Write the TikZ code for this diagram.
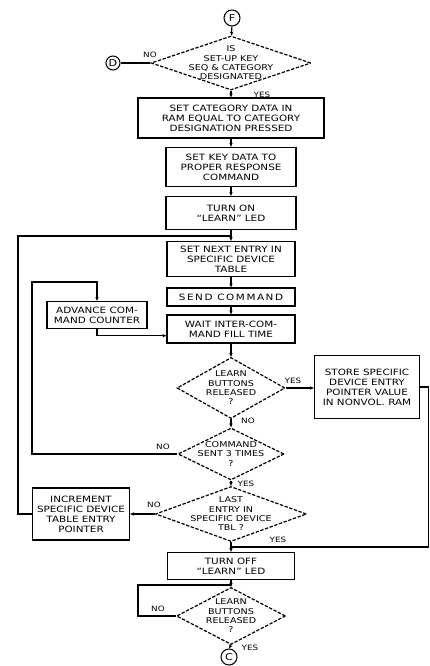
\documentclass[tikz,border=0pt]{standalone}
\usepackage{fontspec}
\usepackage{tikz}
\usetikzlibrary{shapes.geometric,arrows.meta}

\newfontfamily\scanfont{DejaVu Sans}[FakeStretch=1.2]

\tikzset{
  box/.style={draw, line width=0.9pt, rectangle, align=center, inner sep=1pt,
    font=\scanfont\fontsize{6.5}{7.5}\selectfont},
  decision/.style={draw, line width=0.9pt, dash pattern=on 2.5pt off 1.2pt,
    diamond, inner sep=0pt},
  dtext/.style={align=center, inner sep=0pt, font=\scanfont\fontsize{6}{7}\selectfont},
  conn/.style={draw, line width=0.8pt, circle, inner sep=0pt, minimum size=12pt,
    font=\scanfont\fontsize{7}{8}\selectfont},
  lbl/.style={inner sep=0pt, font=\scanfont\fontsize{5.5}{6}\selectfont},
  link/.style={line width=0.8pt},
  flow/.style={line width=0.8pt, -{Stealth[length=3pt,width=2.5pt]}}
}

\begin{document}
\begin{tikzpicture}[x=0.75pt,y=-0.75pt]
  \useasboundingbox (0,0) rectangle (429,666);

  \node[conn] (cF) at (232,18) {F};
  \node[decision, minimum width=120pt, minimum height=40.5pt,
    label={[dtext]center:{IS\\SET-UP KEY\\SEQ \& CATEGORY\\DESIGNATED}}] (dCat) at (231,63) {};
  \node[conn, minimum size=10.5pt] (cD) at (113,63) {D};
  \node[box, minimum width=139.5pt, minimum height=30pt] (bCat) at (231,118)
    {SET CATEGORY DATA IN\\RAM EQUAL TO CATEGORY\\DESIGNATION PRESSED};
  \node[box, minimum width=97.5pt, minimum height=29.25pt] (bKey) at (231,167)
    {SET KEY DATA TO\\PROPER RESPONSE\\COMMAND};
  \node[box, minimum width=97.5pt, minimum height=24.75pt] (bLedOn) at (231,213)
    {TURN ON\\“LEARN” LED};
  \coordinate (jNext) at (231,236);
  \node[box, minimum width=96pt, minimum height=26.25pt] (bNext) at (231,259)
    {SET NEXT ENTRY IN\\SPECIFIC DEVICE\\TABLE};
  \node[box, minimum width=96pt, minimum height=13.5pt] (bSend) at (231,297)
    {\addfontfeature{LetterSpace=18}SEND COMMAND};
  \node[box, minimum width=96pt, minimum height=21pt] (bWait) at (231,329)
    {WAIT INTER-COM-\\MAND FILL TIME};
  \node[decision, minimum width=81pt, minimum height=45.75pt,
    label={[dtext]center:{LEARN\\BUTTONS\\RELEASED\\?}}] (dRel1) at (231,388) {};
  \node[box, minimum width=78.75pt, minimum height=47.25pt] (bStore) at (367,387)
    {STORE SPECIFIC\\DEVICE ENTRY\\POINTER VALUE\\IN NONVOL. RAM};
  \node[box, minimum width=75pt, minimum height=20.25pt] (bAdv) at (97,315)
    {ADVANCE COM-\\MAND COUNTER};
  \node[decision, minimum width=79.5pt, minimum height=39pt,
    label={[dtext]center:{COMMAND\\SENT 3 TIMES\\?}}] (dSent) at (231,454) {};
  \node[decision, minimum width=113.25pt, minimum height=41.25pt,
    label={[dtext]center:{LAST\\ENTRY IN\\SPECIFIC DEVICE\\TBL ?}}] (dLast) at (231,514) {};
  \node[box, minimum width=72.75pt, minimum height=39pt] (bInc) at (81,514)
    {INCREMENT\\SPECIFIC DEVICE\\TABLE ENTRY\\POINTER};
  \coordinate (jOff) at (231,547);
  \node[box, minimum width=95.25pt, minimum height=20.25pt] (bLedOff) at (231,566)
    {TURN OFF\\“LEARN” LED};
  \coordinate (jRel) at (231,585);
  \node[decision, minimum width=81.75pt, minimum height=42.75pt,
    label={[dtext]center:{LEARN\\BUTTONS\\RELEASED\\?}}] (dRel2) at (231,616) {};
  \node[conn] (cC) at (229,657) {C};

  \node[lbl] (lNoCat) at (150,55) {NO};
  \node[lbl] (lYesCat) at (262,95) {YES};
  \node[lbl] (lYesRel1) at (293,381) {YES};
  \node[lbl] (lNoRel1) at (248,421) {NO};
  \node[lbl] (lNoSent) at (163,447) {NO};
  \node[lbl] (lYesSent) at (246,484) {YES};
  \node[lbl] (lNoLast) at (154,505) {NO};
  \node[lbl] (lYesLast) at (278,540) {YES};
  \node[lbl] (lNoRel2) at (158,609) {NO};
  \node[lbl] (lYesRel2) at (250,648) {YES};

  \draw[flow] (cF) -- (dCat);
  \draw[link] (dCat.west) -- (cD.east);
  \draw[flow] (dCat.south) -- (bCat.north);
  \draw[flow] (bCat) -- (bKey);
  \draw[flow] (bKey) -- (bLedOn);
  \draw[link] (bLedOn.south) -- (jNext);
  \draw[flow] (jNext) -- (bNext.north);
  \draw[flow] (bNext) -- (bSend);
  \draw[flow] (bSend) -- (bWait);
  \draw[flow] (bWait.south) -- (dRel1.north);
  \draw[flow] (dRel1.east) -- (dRel1.east -| bStore.west);
  \draw[flow] (dRel1.south) -- (dSent.north);
  \draw[flow] (dSent.west) -| (32,282) -| (bAdv.north);
  \draw[flow] (bAdv.south) |- ([yshift=-5pt]bWait.west);
  \draw[flow] (dSent.south) -- (dLast.north);
  \draw[flow] (dLast.west) -- (bInc.east);
  \draw[link] (bInc.west) -| (18,236) -- (jNext);
  \draw[link] (dLast.south) -- (jOff);
  \draw[link] (bStore.east) -- ++(8,0) |- (jOff);
  \draw[flow] (jOff) -- (bLedOff.north);
  \draw[link] (bLedOff.south) -- (jRel);
  \draw[flow] (jRel) -- (dRel2.north);
  \draw[link] (dRel2.west) -| (138,585) -- (jRel);
  \draw[flow] (dRel2.south) -- (cC.north);
\end{tikzpicture}
\end{document}
